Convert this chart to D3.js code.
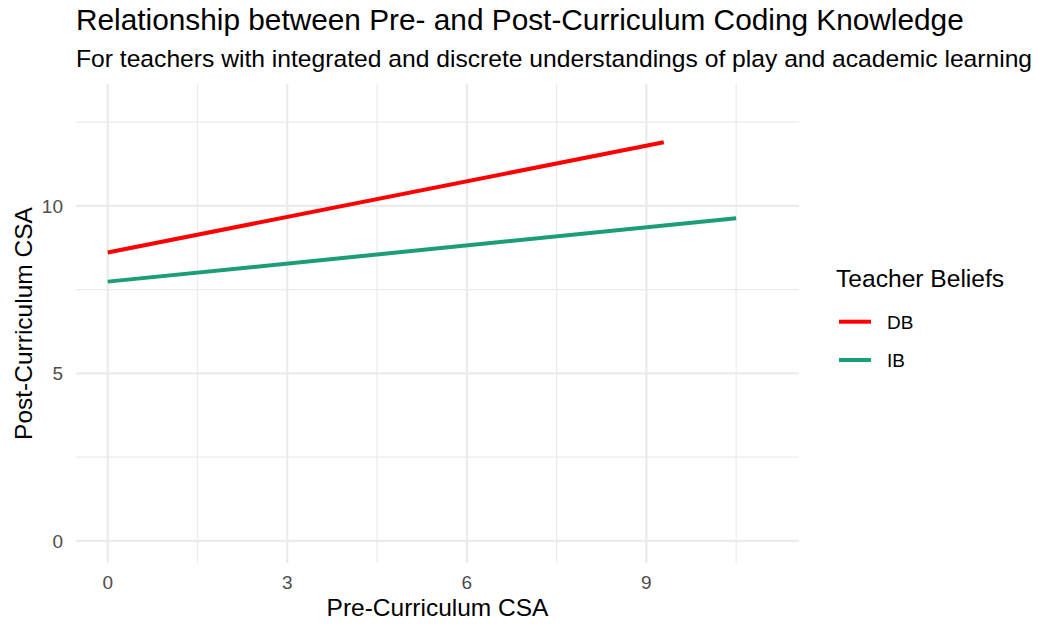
<!DOCTYPE html>
<html><head><meta charset="utf-8">
<script src="https://cdn.jsdelivr.net/npm/d3@7"></script>
<style>body{margin:0;background:#fff;} text{font-family:"Liberation Sans",Arial,Helvetica,sans-serif;}</style>
</head><body>
<svg id="chart" width="1038" height="624"></svg>
<script>
const groups = ["DB", "IB"];
const colors = ["#FF0000", "#1B9E77"];
const dbLine = [{x: 0, y: 8.61}, {x: 9.29, y: 11.90}];
const ibLine = [{x: 0, y: 7.74}, {x: 10.5, y: 9.63}];
const xTicks = [0, 3, 6, 9];
const xMinor = [1.5, 4.5, 7.5, 10.5];
const yTicks = [0, 5, 10];
const yMinor = [2.5, 7.5, 12.5];

const svg = d3.select("#chart");
const panel = {left: 76, right: 799, top: 84, bottom: 563};
const x = d3.scaleLinear().domain([-0.53, 11.55]).range([panel.left, panel.right]);
const y = d3.scaleLinear().domain([-0.66, 13.64]).range([panel.bottom, panel.top]);

const grid = svg.append("g");
grid.selectAll(".xm").data(xMinor).join("line")
  .attr("x1", d => x(d)).attr("x2", d => x(d)).attr("y1", panel.top).attr("y2", panel.bottom)
  .attr("stroke", "#EBEBEB").attr("stroke-width", 1.2);
grid.selectAll(".ym").data(yMinor).join("line")
  .attr("y1", d => y(d)).attr("y2", d => y(d)).attr("x1", panel.left).attr("x2", panel.right)
  .attr("stroke", "#EBEBEB").attr("stroke-width", 1.2);
grid.selectAll(".xM").data(xTicks).join("line")
  .attr("x1", d => x(d)).attr("x2", d => x(d)).attr("y1", panel.top).attr("y2", panel.bottom)
  .attr("stroke", "#EBEBEB").attr("stroke-width", 2.2);
grid.selectAll(".yM").data(yTicks).join("line")
  .attr("y1", d => y(d)).attr("y2", d => y(d)).attr("x1", panel.left).attr("x2", panel.right)
  .attr("stroke", "#EBEBEB").attr("stroke-width", 2.2);

const line = d3.line().x(d => x(d.x)).y(d => y(d.y));
[dbLine, ibLine].forEach((dat, i) => {
  svg.append("path").attr("d", line(dat)).attr("fill", "none")
    .attr("stroke", colors[i]).attr("stroke-width", 4);
});

// axis tick labels
svg.append("g").selectAll("text").data(xTicks).join("text")
  .attr("x", d => x(d)).attr("y", 589).attr("text-anchor", "middle")
  .attr("font-size", 19).attr("fill", "#4D4D4D").text(d => d);
svg.append("g").selectAll("text").data(yTicks).join("text")
  .attr("x", 63).attr("y", d => y(d) + 7).attr("text-anchor", "end")
  .attr("font-size", 19).attr("fill", "#4D4D4D").text(d => d);

// axis titles
svg.append("text").attr("x", (panel.left + panel.right) / 2).attr("y", 616)
  .attr("text-anchor", "middle").attr("font-size", 24.5).attr("fill", "#000").text("Pre-Curriculum CSA");
svg.append("text").attr("transform", `translate(32,${(panel.top + panel.bottom) / 2}) rotate(-90)`)
  .attr("text-anchor", "middle").attr("font-size", 24.5).attr("fill", "#000").text("Post-Curriculum CSA");

// titles
svg.append("text").attr("x", 76).attr("y", 30).attr("font-size", 29.8).attr("fill", "#000")
  .text("Relationship between Pre- and Post-Curriculum Coding Knowledge");
svg.append("text").attr("x", 76).attr("y", 67).attr("font-size", 24.65).attr("fill", "#000")
  .text("For teachers with integrated and discrete understandings of play and academic learning");

// legend
const lg = svg.append("g");
lg.append("text").attr("x", 836).attr("y", 287).attr("font-size", 24.6).attr("fill", "#000").text("Teacher Beliefs");
const keyY = [321.7, 360];
lg.selectAll("line").data(groups).join("line")
  .attr("x1", 839).attr("x2", 871).attr("y1", (d, i) => keyY[i]).attr("y2", (d, i) => keyY[i])
  .attr("stroke", (d, i) => colors[i]).attr("stroke-width", 4);
lg.selectAll("text.lab").data(groups).join("text").attr("class", "lab")
  .attr("x", 887).attr("y", (d, i) => keyY[i] + 7).attr("font-size", 19).attr("fill", "#000").text(d => d);
</script>
</body></html>
